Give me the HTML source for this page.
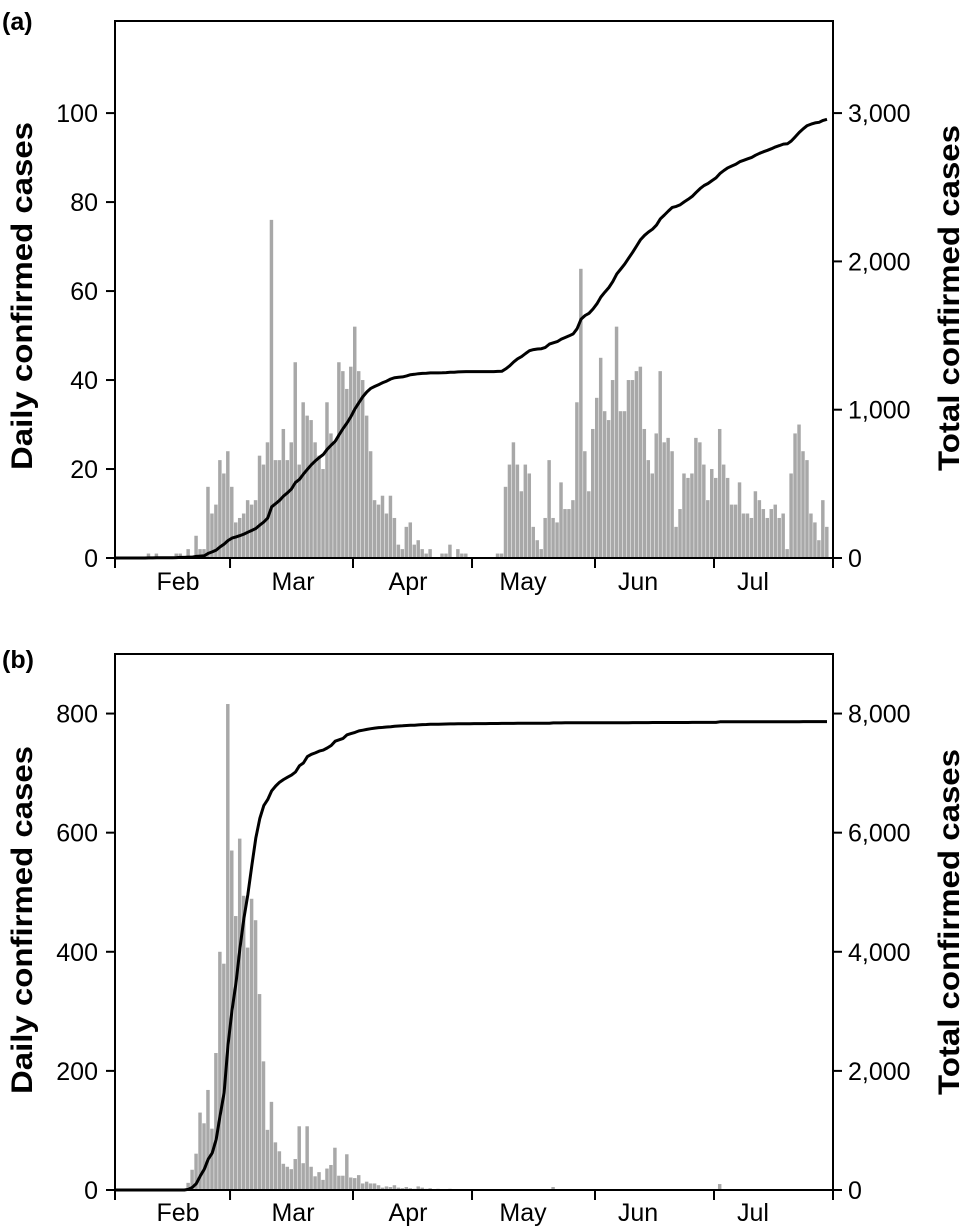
<!DOCTYPE html>
<html><head><meta charset="utf-8"><style>
html,body{margin:0;padding:0;background:#fff}
svg{display:block;font-family:"Liberation Sans",Arial,sans-serif}
</style></head><body>
<svg id="chart" width="973" height="1232" viewBox="0 0 973 1232" xmlns="http://www.w3.org/2000/svg">
<text x="2" y="30" font-size="25" font-weight="bold">(a)</text>
<text x="2" y="668" font-size="25" font-weight="bold">(b)</text>
<text transform="translate(32,296) rotate(-90)" text-anchor="middle" font-size="30" font-weight="bold" textLength="348" lengthAdjust="spacingAndGlyphs">Daily confirmed cases</text>
<text transform="translate(959,298) rotate(-90)" text-anchor="middle" font-size="30" font-weight="bold" textLength="346" lengthAdjust="spacingAndGlyphs">Total confirmed cases</text>
<text transform="translate(32,920) rotate(-90)" text-anchor="middle" font-size="30" font-weight="bold" textLength="348" lengthAdjust="spacingAndGlyphs">Daily confirmed cases</text>
<text transform="translate(959,922) rotate(-90)" text-anchor="middle" font-size="30" font-weight="bold" textLength="346" lengthAdjust="spacingAndGlyphs">Total confirmed cases</text>
<g id="pa"></g>
<g id="pb"></g>
</svg>
<script>
const monthLabels = ["Feb","Mar","Apr","May","Jun","Jul"];
const monthStartDays = [0,29,60,90,121,151,181];
const dailyA = [
0,0,0,0,0,0,0,0,1,0,1,0,0,0,0,1,1,0,2,0,5,2,2,
16,10,12,22,19,24,16,
8,9,10,13,12,13,23,21,26,
76,22,22,29,22,26,44,21,35,32,31,26,23,20,35,28,26,
44,42,38,43,52,42,40,
32,24,13,12,14,10,14,9,
3,2,7,8,3,4,2,1,2,0,0,1,1,3,0,2,1,1,
0,0,0,0,0,0,0,
1,1,16,21,26,21,15,21,19,7,4,2,9,22,9,8,17,11,11,13,
35,65,24,15,29,36,45,33,31,40,52,33,33,40,40,42,43,29,22,19,
28,42,26,27,24,7,11,19,18,19,27,26,21,13,20,18,29,21,18,12,
12,17,10,10,9,15,13,11,9,11,12,9,10,2,19,28,30,24,22,10,
8,4,13,7];
const dailyB = [
0,0,0,0,0,0,0,0,0,0,0,0,0,0,0,0,0,0,
12,34,61,130,112,168,103,230,400,380,816,570,460,590,494,407,489,453,329,216,101,148,80,65,44,39,35,52,107,45,107,39,23,30,17,36,42,71,24,24,60,
21,20,25,11,14,11,11,8,4,
6,5,8,4,3,5,3,2,6,4,2,3,1,2,1,1,2,1,
1,1,0,1,1,0,1,0,1,0,0,1,0,1,
0,1,0,0,1,0,0,0,1,0,5,0,0,1,0,0,0,1,0,0,
0,1,0,0,0,1,0,0,0,0,1,0,0,0,0,1,0,0,0,0,
1,0,0,0,0,1,0,0,0,0,0,0,10,0,0,1,0,0,0,0,
1,0,0,0,0,0,1,0,0,0,0,0,0,1,0,0,0,0,0,0];
const leftTicksA = [0,20,40,60,80,100];
const rightTicksA = [0,1000,2000,3000];
const leftTicksB = [0,200,400,600,800];
const rightTicksB = [0,2000,4000,6000,8000];

const NS="http://www.w3.org/2000/svg";
const X0=115, X1=833, DMAX=181;
function xs(d){return X0+d*(X1-X0)/DMAX;}
function mk(tag,attrs,parent){const e=document.createElementNS(NS,tag);for(const k in attrs)e.setAttribute(k,attrs[k]);parent.appendChild(e);return e;}
function fmt(n){return n.toLocaleString('en-US');}

function panel(g,daily,base,top,leftMax,ratio,lt,rt,labelY,pfx){
  const pxPer=(base-top)/leftMax;
  const yl=v=>base-v*pxPer;
  const yr=c=>yl(c/ratio);
  const step=(X1-X0)/DMAX;
  daily.forEach((v,d)=>{
    if(v<=0)return;
    const r=mk('rect',{x:xs(d),y:yl(v),width:step-0.5,height:base-yl(v),fill:'#a8a8a8'},g);
    
    
  });
  let cum=0; const pts=[[xs(0),yl(0)]];
  daily.forEach((v,d)=>{cum+=v;pts.push([xs(d+0.5),yr(cum)]);});
  const pl=mk('polyline',{points:pts.map(p=>p[0].toFixed(1)+','+p[1].toFixed(1)).join(' '),fill:'none',stroke:'#000','stroke-width':3,'stroke-linejoin':'round'},g);
  
  
  const fr=mk('rect',{x:X0,y:top,width:X1-X0,height:base-top,fill:'none',stroke:'#000','stroke-width':2},g);
  
  
  lt.forEach(v=>{
    mk('line',{x1:X0-9,x2:X0,y1:yl(v),y2:yl(v),stroke:'#000','stroke-width':2},g);
    const t=mk('text',{x:X0-17,y:yl(v)+9,'text-anchor':'end','font-size':25},g);
    t.textContent=fmt(v);
    
    
  });
  rt.forEach(v=>{
    mk('line',{x1:X1,x2:X1+9,y1:yr(v),y2:yr(v),stroke:'#000','stroke-width':2},g);
    const t=mk('text',{x:X1+15,y:yr(v)+9,'font-size':25},g);
    t.textContent=fmt(v);
    
    
  });
  monthStartDays.forEach(d=>{mk('line',{x1:xs(d),x2:xs(d),y1:base,y2:base+10,stroke:'#000','stroke-width':2},g);});
  monthLabels.forEach((m,i)=>{
    const t=mk('text',{x:178+i*115,y:labelY,'text-anchor':'middle','font-size':25},g);
    t.textContent=m;
    
    
  });
}
panel(document.getElementById('pa'),dailyA,558,21,120.7,30,leftTicksA,rightTicksA,590,'panel-a');
panel(document.getElementById('pb'),dailyB,1190,654,900,10,leftTicksB,rightTicksB,1221,'panel-b');
</script>
</body></html>
